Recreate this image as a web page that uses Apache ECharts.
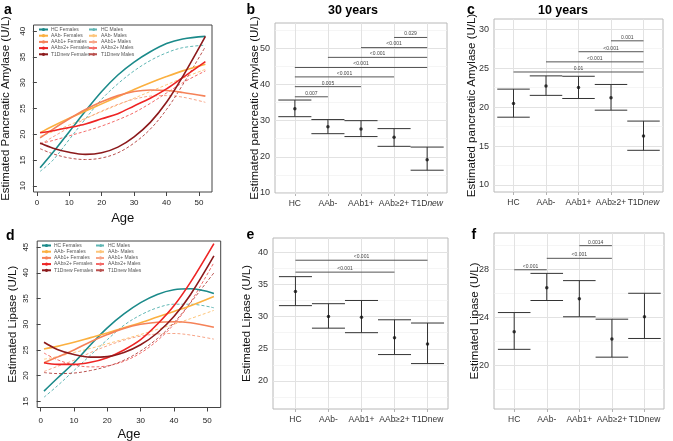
<!DOCTYPE html>
<html>
<head>
<meta charset="utf-8">
<script src="https://cdn.jsdelivr.net/npm/echarts@6/dist/echarts.min.js"></script>
<style>
  html, body { margin: 0; padding: 0; background: #fff; }
  #chart { width: 673px; height: 441px; }
</style>
</head>
<body>
<div id="chart"></div>
<script>
(function () {
  var FONT = '"Liberation Sans", Arial, sans-serif';

  // ---- shared ----
  var ages = [1, 5, 10, 15, 20, 25, 30, 35, 40, 45, 52];
  var groups = ['HC', 'AAb-', 'AAb1+', 'AAb≥2+', 'T1Dnew'];
  var femaleNames = ['HC Females', 'AAb- Females', 'AAb1+ Females', 'AAb≥2+ Females', 'T1Dnew Females'];
  var maleNames = ['HC Males', 'AAb- Males', 'AAb1+ Males', 'AAb≥2+ Males', 'T1Dnew Males'];
  var femaleColors = ['#1b8a8a', '#fbb040', '#f58258', '#ee2424', '#8c1a1c'];
  var maleColors = ['#5fb6b4', '#fdc57a', '#f7a487', '#f36a68', '#b9514f'];

  // ---- panel a: amylase by age (females / males) ----
  var amyF = [
    [13.5, 16.5, 20.5, 24.5, 28.3, 31.5, 34.0, 36.0, 37.6, 38.5, 39.0],
    [20.3, 21.6, 23.1, 24.5, 25.9, 27.3, 28.7, 30.0, 31.2, 32.3, 33.6],
    [19.3, 21.0, 23.0, 24.8, 26.3, 27.5, 28.3, 28.6, 28.5, 28.1, 27.4],
    [20.3, 20.7, 21.3, 22.0, 23.0, 24.0, 25.5, 27.0, 28.8, 31.0, 34.1],
    [18.3, 17.3, 16.5, 16.1, 16.4, 17.5, 19.5, 22.3, 26.2, 31.2, 39.0]
  ];
  var amyM = [
    [12.8, 15.0, 19.0, 23.0, 26.8, 29.8, 32.3, 34.3, 35.8, 36.8, 37.3],
    [19.6, 20.5, 21.8, 23.1, 24.4, 25.7, 27.0, 28.3, 29.6, 30.9, 32.6],
    [18.0, 19.5, 21.3, 23.0, 24.5, 25.8, 26.8, 27.4, 27.5, 27.2, 26.2],
    [18.2, 18.8, 19.7, 20.6, 21.6, 22.8, 24.2, 26.0, 28.0, 30.0, 32.3],
    [17.2, 16.2, 15.4, 15.1, 15.4, 16.4, 18.3, 21.0, 24.8, 29.6, 37.0]
  ];
  var amyTicks = [10, 15, 20, 25, 30, 35, 40];

  // ---- panel d: lipase by age ----
  var lipF = [
    [17.0, 19.5, 22.5, 26.0, 29.3, 32.0, 34.2, 35.8, 36.7, 36.9, 36.0],
    [25.2, 25.7, 26.5, 27.4, 28.3, 29.3, 30.3, 31.4, 32.5, 33.6, 35.4],
    [22.5, 23.6, 25.0, 26.6, 28.0, 29.2, 30.0, 30.4, 30.5, 30.3, 29.4],
    [22.5, 22.2, 22.2, 22.6, 23.5, 25.0, 27.0, 30.0, 33.6, 38.2, 45.7],
    [26.5, 25.1, 24.1, 23.6, 23.7, 24.5, 26.0, 28.3, 31.5, 35.8, 43.3]
  ];
  var lipM = [
    [15.8, 18.0, 21.0, 24.0, 27.0, 29.8, 31.8, 33.2, 33.9, 33.9, 33.2],
    [23.2, 23.7, 24.5, 25.3, 26.2, 27.1, 28.0, 29.0, 30.0, 31.1, 32.7],
    [20.8, 21.8, 23.0, 24.5, 25.8, 26.9, 27.7, 28.1, 28.2, 27.9, 27.1],
    [24.4, 23.1, 22.1, 21.7, 21.9, 22.8, 24.4, 26.8, 30.0, 34.3, 42.0],
    [20.6, 20.4, 20.5, 21.0, 21.8, 23.0, 24.8, 27.2, 30.3, 34.2, 40.0]
  ];
  var lipTicks = [15, 20, 25, 30, 35, 40, 45];
  var ageTicks = [0, 10, 20, 30, 40, 50];

  // ---- panel b: amylase at 30 years ----
  var amy30Mean = [33.3, 28.3, 27.7, 25.4, 19.2];
  var amy30Lo = [31.1, 26.4, 25.6, 22.9, 16.3];
  var amy30Hi = [35.7, 30.3, 30.0, 27.8, 22.7];
  var amy30Sig = [[0, 1, 36.6, '0.007'], [0, 2, 39.4, '0.005'], [0, 3, 42.1, '<0.001'], [0, 4, 44.7, '<0.001'],
                  [1, 4, 47.5, '<0.001'], [2, 4, 50.2, '<0.001'], [3, 4, 53.0, '0.029']];
  var amy30Major = [10, 20, 30, 40, 50];
  var amy30Minor = [15, 25, 35, 45, 55];

  // ---- panel c: amylase at 10 years ----
  var amy10Mean = [20.45, 22.7, 22.5, 21.2, 16.3];
  var amy10Lo = [18.7, 21.5, 21.1, 19.6, 14.45];
  var amy10Hi = [22.3, 24.0, 23.95, 22.9, 18.2];
  var amy10Sig = [[0, 4, 24.5, '0.01'], [1, 4, 25.8, '<0.001'], [2, 4, 27.1, '<0.001'], [3, 4, 28.5, '0.001']];
  var amy10Major = [10, 15, 20, 25, 30];
  var amy10Minor = [12.5, 17.5, 22.5, 27.5];

  // ---- panel e: lipase at 30 years ----
  var lip30Mean = [33.9, 30.0, 29.9, 26.7, 25.75];
  var lip30Lo = [31.7, 28.2, 27.5, 24.1, 22.7];
  var lip30Hi = [36.2, 32.0, 32.5, 29.5, 29.0];
  var lip30Sig = [[0, 3, 36.9, '<0.001'], [0, 4, 38.75, '<0.001']];
  var lip30Major = [20, 25, 30, 35, 40];
  var lip30Minor = [17.5, 22.5, 27.5, 32.5, 37.5];

  // ---- panel f: lipase at 10 years ----
  var lip10Mean = [22.8, 26.45, 25.55, 22.2, 24.05];
  var lip10Lo = [21.35, 25.4, 24.05, 20.7, 22.25];
  var lip10Hi = [24.4, 27.65, 27.05, 23.85, 26.0];
  var lip10Sig = [[0, 1, 27.95, '<0.001'], [1, 3, 28.9, '<0.001'], [2, 3, 29.95, '0.0014']];
  var lip10Major = [20, 24, 28];
  var lip10Minor = [18, 22, 26, 30];

  var groupIdx = groups.map(function (g, i) { return i; });

  var chart = echarts.init(document.getElementById('chart'), null, { renderer: 'canvas' });

  function curve(name, vals, color, dashed, ax) {
    return {
      name: name, type: 'line', xAxisIndex: ax, yAxisIndex: ax,
      smooth: 0.35, symbol: 'none', silent: true, z: dashed ? 2 : 3,
      data: ages.map(function (a, i) { return [a, vals[i]]; }),
      lineStyle: { color: color, width: dashed ? 1 : 1.6, type: dashed ? [3, 2] : 'solid' },
      itemStyle: { color: color }
    };
  }

  function errorBars(ax, lo, hi) {
    return {
      type: 'custom', xAxisIndex: ax, yAxisIndex: ax, z: 3, silent: true,
      data: groupIdx.map(function (i) { return [i, lo[i], hi[i]]; }),
      renderItem: function (params, api) {
        var x = api.value(0);
        var top = api.coord([x, api.value(2)]);
        var bot = api.coord([x, api.value(1)]);
        var half = api.size([1, 0])[0] * 0.5;
        var st = { stroke: '#333', lineWidth: 1 };
        return {
          type: 'group', children: [
            { type: 'line', shape: { x1: top[0], y1: top[1], x2: bot[0], y2: bot[1] }, style: st },
            { type: 'line', shape: { x1: top[0] - half, y1: top[1], x2: top[0] + half, y2: top[1] }, style: st },
            { type: 'line', shape: { x1: bot[0] - half, y1: bot[1], x2: bot[0] + half, y2: bot[1] }, style: st }
          ]
        };
      }
    };
  }

  function brackets(ax, sig) {
    return {
      type: 'custom', xAxisIndex: ax, yAxisIndex: ax, z: 3, silent: true,
      data: sig.map(function (s) { return [s[0], s[1], s[2]]; }),
      renderItem: function (params, api) {
        var p1 = api.coord([api.value(0), api.value(2)]);
        var p2 = api.coord([api.value(1), api.value(2)]);
        return {
          type: 'group', children: [
            { type: 'line', shape: { x1: p1[0], y1: p1[1], x2: p2[0], y2: p2[1] }, style: { stroke: '#555', lineWidth: 1 } },
            { type: 'text', x: (p1[0] + p2[0]) / 2, y: p1[1] - 1,
              style: { text: sig[params.dataIndex][3], fontSize: 5, fontFamily: FONT, fill: '#444', align: 'center', verticalAlign: 'bottom' } }
          ]
        };
      }
    };
  }

  function gridLines(major, minor) {
    var d = [];
    major.forEach(function (v) { d.push({ yAxis: v, lineStyle: { color: '#e2e2e2', width: 1, type: 'solid' } }); });
    minor.forEach(function (v) { d.push({ yAxis: v, lineStyle: { color: '#f1f1f1', width: 0.7, type: 'solid' } }); });
    groupIdx.forEach(function (i) { d.push({ xAxis: i, lineStyle: { color: '#e2e2e2', width: 1, type: 'solid' } }); });
    return { silent: true, symbol: 'none', label: { show: false }, z: 1, animation: false, data: d };
  }

  function means(ax, vals, major, minor) {
    return {
      type: 'scatter', xAxisIndex: ax, yAxisIndex: ax, z: 4, silent: true,
      symbolSize: 3.5, itemStyle: { color: '#111' },
      data: groupIdx.map(function (i) { return [i, vals[i]]; }),
      markLine: gridLines(major, minor)
    };
  }

  // axes for base-R style panels (a, d)
  function ageAxis(grid, min, max, margin) {
    return {
      type: 'value', gridIndex: grid, min: min, max: max,
      name: 'Age', nameLocation: 'middle', nameGap: 20, nameMoveOverlap: false,
      nameTextStyle: { fontSize: 13, color: '#111', fontFamily: FONT },
      axisLine: { show: false },
      axisTick: { show: true, customValues: ageTicks, length: 4, lineStyle: { color: '#444' } },
      axisLabel: { customValues: ageTicks, fontSize: 8, color: '#222', margin: margin },
      splitLine: { show: false }
    };
  }
  function rValAxis(grid, min, max, ticks, name, gap) {
    return {
      type: 'value', gridIndex: grid, min: min, max: max,
      name: name, nameLocation: 'middle', nameGap: gap, nameMoveOverlap: false,
      nameTextStyle: { fontSize: 11.5, color: '#111', fontFamily: FONT },
      axisLine: { show: false },
      axisTick: { show: true, customValues: ticks, length: 4, lineStyle: { color: '#444' } },
      axisLabel: { customValues: ticks, fontSize: 8, color: '#222', rotate: 90, margin: 7 },
      splitLine: { show: false }
    };
  }
  // axes for ggplot style panels
  function groupAxis(grid, min, max, italic) {
    return {
      type: 'value', gridIndex: grid, min: min, max: max,
      axisLine: { show: false },
      axisTick: { show: true, customValues: groupIdx, length: 3, lineStyle: { color: '#b3b3b3' } },
      axisLabel: {
        customValues: groupIdx, fontSize: 8.5, color: '#333', margin: 6,
        showMinLabel: true, showMaxLabel: true, hideOverlap: false,
        formatter: function (v) {
          var g = groups[Math.round(v)];
          return italic && g === 'T1Dnew' ? 'T1D{it|new}' : g;
        },
        rich: { it: { fontStyle: 'italic', fontSize: 8.5, color: '#333', fontFamily: FONT } }
      },
      splitLine: { show: false }
    };
  }
  function ggValAxis(grid, min, max, ticks, name, gap) {
    return {
      type: 'value', gridIndex: grid, min: min, max: max,
      name: name, nameLocation: 'middle', nameGap: gap, nameMoveOverlap: false,
      nameTextStyle: { fontSize: 11.5, color: '#111', fontFamily: FONT },
      axisLine: { show: false },
      axisTick: { show: true, customValues: ticks, length: 3, lineStyle: { color: '#b3b3b3' } },
      axisLabel: { customValues: ticks, fontSize: 9, color: '#333', margin: 5, showMinLabel: true, showMaxLabel: true },
      splitLine: { show: false }
    };
  }

  function legendCol(names, left, top) {
    return {
      data: names, left: left, top: top, orient: 'vertical', selectedMode: false,
      itemWidth: 9, itemHeight: 4, itemGap: 1.2, padding: 0,
      textStyle: { fontSize: 5, color: '#555', fontFamily: FONT, padding: [0, 0, 0, -2] }
    };
  }

  var series = [];
  femaleNames.forEach(function (n, i) {
    series.push(curve(n, amyF[i], femaleColors[i], false, 0));
    series.push(curve(n, lipF[i], femaleColors[i], false, 3));
  });
  maleNames.forEach(function (n, i) {
    series.push(curve(n, amyM[i], maleColors[i], true, 0));
    series.push(curve(n, lipM[i], maleColors[i], true, 3));
  });
  series.push(errorBars(1, amy30Lo, amy30Hi), means(1, amy30Mean, amy30Major, amy30Minor), brackets(1, amy30Sig));
  series.push(errorBars(2, amy10Lo, amy10Hi), means(2, amy10Mean, amy10Major, amy10Minor), brackets(2, amy10Sig));
  series.push(errorBars(4, lip30Lo, lip30Hi), means(4, lip30Mean, lip30Major, lip30Minor), brackets(4, lip30Sig));
  series.push(errorBars(5, lip10Lo, lip10Hi), means(5, lip10Mean, lip10Major, lip10Minor), brackets(5, lip10Sig));

  var rBox = { show: true, borderColor: '#444', borderWidth: 1, backgroundColor: 'transparent', outerBoundsMode: 'none' };
  var ggBox = { show: true, borderColor: '#b8b8b8', borderWidth: 1, backgroundColor: 'transparent', outerBoundsMode: 'none' };
  function box(base, l, t, w, h) {
    return Object.assign({}, base, { left: l, top: t, width: w, height: h });
  }

  chart.setOption({
    animation: false,
    textStyle: { fontFamily: FONT },
    tooltip: { show: false },
    grid: [
      box(rBox, 33.5, 25, 178.5, 167),   // a
      box(ggBox, 275, 23, 172, 170),     // b
      box(ggBox, 494, 19, 169, 173),     // c
      box(rBox, 37.2, 241, 183.5, 166.5),// d
      box(ggBox, 273, 238, 175, 171),    // e
      box(ggBox, 494, 233, 170, 176)     // f
    ],
    xAxis: [
      ageAxis(0, -1.04, 54.04, 7),
      groupAxis(1, -0.6, 4.6, true),
      groupAxis(2, -0.6, 4.6, true),
      ageAxis(3, -1.04, 54.04, 9),
      groupAxis(4, -0.68, 4.62, false),
      groupAxis(5, -0.62, 4.6, false)
    ],
    yAxis: [
      rValAxis(0, 8.8, 41.2, amyTicks, 'Estimated Pancreatic Amylase (U/L)', 22),
      ggValAxis(1, 10, 57, amy30Major, 'Estimated pancreatic Amylase (U/L)', 14),
      ggValAxis(2, 9.1, 31.3, amy10Major, 'Estimated pancreatic Amylase (U/L)', 16),
      rValAxis(3, 13.8, 46.2, lipTicks, 'Estimated Lipase (U/L)', 18),
      ggValAxis(4, 15.65, 42.2, lip30Major, 'Estimated Lipase (U/L)', 20),
      ggValAxis(5, 16.4, 31.0, lip10Major, 'Estimated Lipase (U/L)', 13)
    ],
    legend: [
      legendCol(femaleNames, 38, 27),
      legendCol(maleNames, 88, 27),
      legendCol(femaleNames, 41, 243),
      legendCol(maleNames, 95, 243)
    ],
    series: series,
    graphic: [
      { type: 'text', x: 4, y: 10, style: { text: 'a', font: 'bold 14px ' + FONT, fill: '#000', verticalAlign: 'middle' } },
      { type: 'text', x: 246.5, y: 10.5, style: { text: 'b', font: 'bold 14px ' + FONT, fill: '#000', verticalAlign: 'middle' } },
      { type: 'text', x: 467, y: 10, style: { text: 'c', font: 'bold 14px ' + FONT, fill: '#000', verticalAlign: 'middle' } },
      { type: 'text', x: 6, y: 236, style: { text: 'd', font: 'bold 14px ' + FONT, fill: '#000', verticalAlign: 'middle' } },
      { type: 'text', x: 246.5, y: 235, style: { text: 'e', font: 'bold 14px ' + FONT, fill: '#000', verticalAlign: 'middle' } },
      { type: 'text', x: 471.5, y: 235, style: { text: 'f', font: 'bold 14px ' + FONT, fill: '#000', verticalAlign: 'middle' } },
      { type: 'text', x: 353, y: 10.5, style: { text: '30 years', font: 'bold 12.5px ' + FONT, fill: '#000', align: 'center', verticalAlign: 'middle' } },
      { type: 'text', x: 563, y: 10.5, style: { text: '10 years', font: 'bold 12.5px ' + FONT, fill: '#000', align: 'center', verticalAlign: 'middle' } }
    ]
  });
})();
</script>
</body>
</html>
